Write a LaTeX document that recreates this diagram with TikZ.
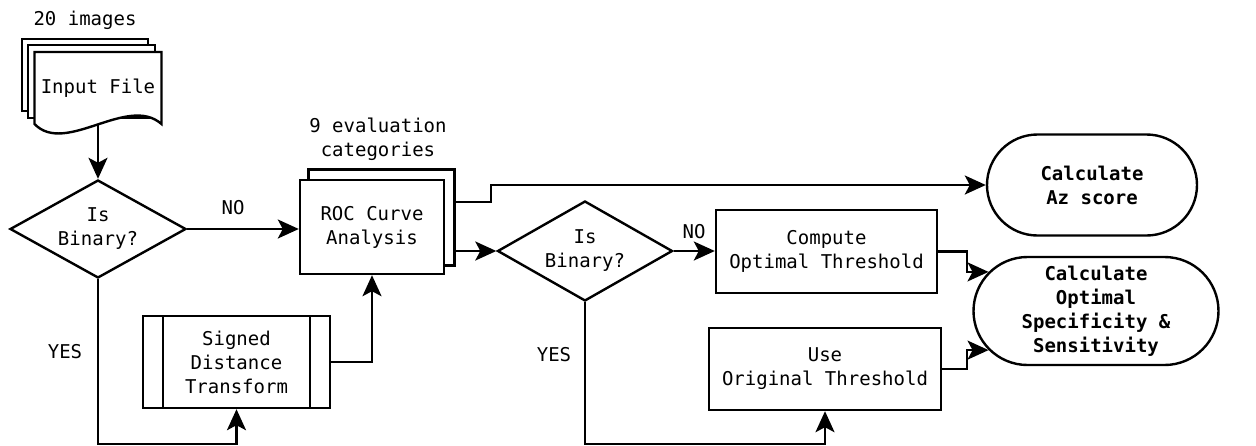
\documentclass[tikz,border=0pt]{standalone}
\usepackage{fontspec}
\setmonofont{DejaVu Sans Mono}
\usepackage{tikz}
\usetikzlibrary{positioning, arrows.meta, shapes.geometric, shapes.misc, calc}

\newcommand{\flowfont}{\ttfamily\fontsize{19}{24}\selectfont}

\begin{document}
\begin{tikzpicture}[
    x=1pt, y=-1pt,
    box/.style={draw, line width=2.4pt, fill=white, align=center, inner sep=0pt, font=\flowfont},
    decision/.style={box, diamond, aspect=1.8},
    terminal/.style={box, rounded rectangle, font=\flowfont\bfseries},
    subproc/.style={box, path picture={
        \draw[line width=2.4pt] ([xshift=20pt]path picture bounding box.north west) -- ([xshift=20pt]path picture bounding box.south west);
        \draw[line width=2.4pt] ([xshift=-20pt]path picture bounding box.north east) -- ([xshift=-20pt]path picture bounding box.south east);
    }},
    sheet/.style={draw, fill=white, line width=2.4pt, line join=miter},
    lbl/.style={font=\flowfont, inner sep=0pt},
    flow/.style={line width=2.4pt, -{Stealth[length=21pt, width=19pt, inset=5pt]}}
]

\useasboundingbox (0,0) rectangle (1256,445);

% --- 1. Input files (stacked sheets) ---
\filldraw[sheet] (22,39) rectangle (148,111);
\filldraw[sheet] (28,45) rectangle (155,118);
\filldraw[sheet] (34.5,52) -- (161.5,52) -- (161.5,124)
    .. controls (127.5,94) and (65.5,156) .. (34.5,124) -- cycle;
\node[lbl, minimum width=127pt, minimum height=72pt] (infile) at (98,88) {Input File};
\node[lbl] (nimages) at (85,20) {20 images};

% --- 2. First decision and distance transform ---
\node[decision, minimum width=176pt, minimum height=98pt] (d1) at (98,229) {Is\\Binary?};
\node[subproc, minimum width=187pt, minimum height=92pt] (sdt) at (236.5,362) {Signed\\Distance\\Transform};

\node[lbl] (no1) at (233,208) {NO};
\node[lbl] (yes1) at (65,352) {YES};

% --- 3. ROC analysis (one per category) ---
\node[box, minimum width=146pt, minimum height=96pt] (rocback) at (381.5,217.5) {};
\node[box, minimum width=144pt, minimum height=94pt] (roc) at (372,227) {ROC Curve\\Analysis};
\node[lbl, align=center] (ncat) at (378,139) {9 evaluation\\categories};

% --- 4. Second decision and thresholds ---
\node[decision, minimum width=175pt, minimum height=100pt] (d2) at (585,251) {Is\\Binary?};
\node[box, minimum width=221pt, minimum height=83pt] (compute) at (826.5,251.5) {Compute\\Optimal Threshold};
\node[box, minimum width=232pt, minimum height=82pt] (use) at (825,369) {Use\\Original Threshold};

\node[lbl] (no2) at (694,232) {NO};
\node[lbl] (yes2) at (554,355) {YES};

% --- 5. Outputs ---
\node[terminal, minimum width=210pt, minimum height=101pt] (az) at (1092,185) {Calculate\\Az score};
\node[terminal, minimum width=245pt, minimum height=108pt] (opt) at (1096,311) {Calculate\\Optimal\\Specificity \&\\Sensitivity};

% --- 6. Connectors ---
\draw[flow] (infile.south) -- (d1.north);
\draw[flow] (d1.east) -- (d1.east -| roc.west);
\draw[flow] (d1.south) -- ++(0,165) -| (sdt.south);
\draw[flow] (sdt.east) -| (roc.south);

\draw[flow] ([yshift=15.5pt]rocback.east) -- ++(35,0) |- (az.west);
\draw[flow] ([yshift=-33.5pt]rocback.east) -- (d2.west);

\draw[flow] (d2.east) -- (d2.east -| compute.west);
\draw[flow] (d2.south) -- ++(0,142) -| (use.south);

\draw[flow] (compute.east) -- ++(29,0) |- (opt.160);
\draw[flow] (use.east) -- ++(25,0) |- (opt.200);

\end{tikzpicture}
\end{document}
